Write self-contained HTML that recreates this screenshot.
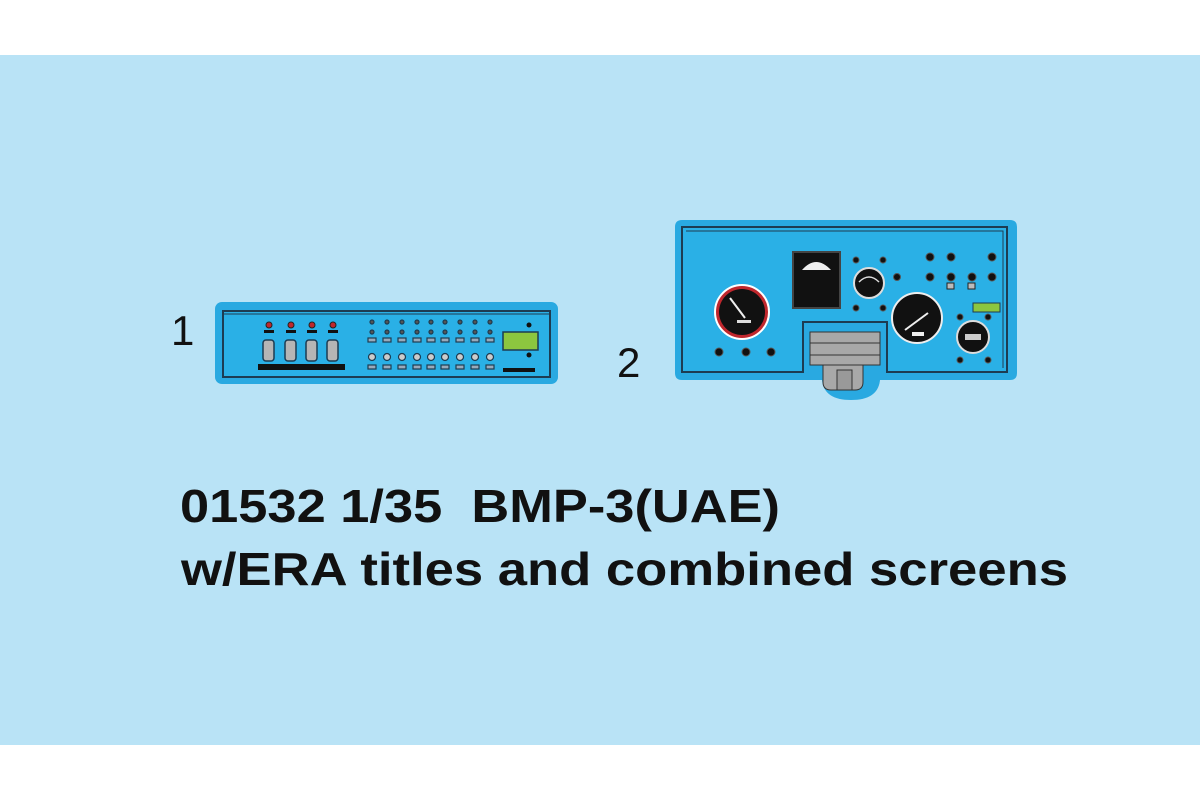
<!DOCTYPE html>
<html><head><meta charset="utf-8"><style>
html,body{margin:0;padding:0;background:#fff;width:1200px;height:800px;overflow:hidden}
svg{display:block}
</style></head><body>
<svg width="1200" height="800" viewBox="0 0 1200 800" xmlns="http://www.w3.org/2000/svg">
<rect x="0" y="0" width="1200" height="800" fill="#fff"/>
<rect x="0" y="55" width="1200" height="690" fill="#b9e3f6"/>

<!-- Panel 1 -->
<rect x="215" y="302" width="343" height="82" rx="7" fill="#29a9e1"/>
<rect x="223" y="311" width="327" height="66" fill="#2ab0e6" stroke="#1d3c52" stroke-width="2"/>
<line x1="223" y1="314" x2="550" y2="314" stroke="#1d3c52" stroke-width="1"/>
<g fill="#c0272d" stroke="#222" stroke-width="1">
<circle cx="269" cy="325" r="3"/><circle cx="291" cy="325" r="3"/><circle cx="312" cy="325" r="3"/><circle cx="333" cy="325" r="3"/>
</g>
<g fill="#111">
<rect x="264" y="330" width="10" height="3"/><rect x="286" y="330" width="10" height="3"/><rect x="307" y="330" width="10" height="3"/><rect x="328" y="330" width="10" height="3"/>
<rect x="258" y="364" width="87" height="6"/>
<rect x="503" y="368" width="32" height="4"/>
<circle cx="529" cy="325" r="2.5"/><circle cx="529" cy="355" r="2.5"/>
</g>
<g fill="#b5b5b5" stroke="#1d3c52" stroke-width="1.5">
<rect x="263" y="340" width="11" height="21" rx="3"/><rect x="285" y="340" width="11" height="21" rx="3"/><rect x="306" y="340" width="11" height="21" rx="3"/><rect x="327" y="340" width="11" height="21" rx="3"/>
</g>
<g id="col" stroke="#1d3c52" stroke-width="1">
</g>
<g stroke="#1d3c52" stroke-width="1.2">
<!-- columns -->
<g fill="#555"><circle cx="372" cy="322" r="2"/><circle cx="387" cy="322" r="2"/><circle cx="402" cy="322" r="2"/><circle cx="417" cy="322" r="2"/><circle cx="431" cy="322" r="2"/><circle cx="445" cy="322" r="2"/><circle cx="460" cy="322" r="2"/><circle cx="475" cy="322" r="2"/><circle cx="490" cy="322" r="2"/>
<circle cx="372" cy="332" r="2"/><circle cx="387" cy="332" r="2"/><circle cx="402" cy="332" r="2"/><circle cx="417" cy="332" r="2"/><circle cx="431" cy="332" r="2"/><circle cx="445" cy="332" r="2"/><circle cx="460" cy="332" r="2"/><circle cx="475" cy="332" r="2"/><circle cx="490" cy="332" r="2"/></g>
<g fill="#9ab"><rect x="368" y="338" width="8" height="4"/><rect x="383" y="338" width="8" height="4"/><rect x="398" y="338" width="8" height="4"/><rect x="413" y="338" width="8" height="4"/><rect x="427" y="338" width="8" height="4"/><rect x="441" y="338" width="8" height="4"/><rect x="456" y="338" width="8" height="4"/><rect x="471" y="338" width="8" height="4"/><rect x="486" y="338" width="8" height="4"/>
<rect x="368" y="365" width="8" height="4"/><rect x="383" y="365" width="8" height="4"/><rect x="398" y="365" width="8" height="4"/><rect x="413" y="365" width="8" height="4"/><rect x="427" y="365" width="8" height="4"/><rect x="441" y="365" width="8" height="4"/><rect x="456" y="365" width="8" height="4"/><rect x="471" y="365" width="8" height="4"/><rect x="486" y="365" width="8" height="4"/></g>
<g fill="#ccc"><circle cx="372" cy="357" r="3.5"/><circle cx="387" cy="357" r="3.5"/><circle cx="402" cy="357" r="3.5"/><circle cx="417" cy="357" r="3.5"/><circle cx="431" cy="357" r="3.5"/><circle cx="445" cy="357" r="3.5"/><circle cx="460" cy="357" r="3.5"/><circle cx="475" cy="357" r="3.5"/><circle cx="490" cy="357" r="3.5"/></g>
</g>
<rect x="503" y="332" width="35" height="18" fill="#8cc63f" stroke="#1d3c52" stroke-width="1.5"/>

<!-- Panel 2 -->
<path d="M682 220 H1010 Q1017 220 1017 227 V373 Q1017 380 1010 380 H880 Q878 400 851 400 Q824 400 822 380 H682 Q675 380 675 373 V227 Q675 220 682 220 Z" fill="#29a9e1"/>
<path d="M682 227 H1007 V372 H887 V322 H803 V372 H682 Z" fill="#2ab0e6" stroke="#1d3c52" stroke-width="2"/>
<path d="M686 231 H1003 V368" fill="none" stroke="#1d3c52" stroke-width="1"/>
<rect x="810" y="332" width="70" height="33" fill="#a8a8a8" stroke="#333" stroke-width="1"/>
<line x1="810" y1="343" x2="880" y2="343" stroke="#333"/><line x1="810" y1="355" x2="880" y2="355" stroke="#333"/>
<path d="M823 365 H863 V382 Q863 390 855 390 H831 Q823 390 823 382 Z" fill="#a8a8a8" stroke="#333"/>
<rect x="837" y="370" width="15" height="20" fill="#999" stroke="#333"/>
<!-- left gauge -->
<circle cx="742" cy="312" r="27" fill="#c0272d" stroke="#fff" stroke-width="2"/>
<circle cx="742" cy="312" r="23" fill="#111"/>
<line x1="730" y1="298" x2="745" y2="318" stroke="#eee" stroke-width="2"/>
<rect x="737" y="320" width="14" height="3" fill="#ddd"/>
<!-- black square -->
<rect x="793" y="252" width="47" height="56" fill="#111" stroke="#444" stroke-width="2"/>
<path d="M802 270 Q816 254 831 270 Z" fill="#eee"/>
<!-- small gauge -->
<circle cx="869" cy="283" r="15" fill="#111" stroke="#ddd" stroke-width="2"/>
<path d="M859 282 Q869 272 879 282" stroke="#ddd" fill="none" stroke-width="1.5"/>
<!-- big gauge -->
<circle cx="917" cy="318" r="25" fill="#111" stroke="#eee" stroke-width="2"/>
<line x1="905" y1="330" x2="928" y2="313" stroke="#eee" stroke-width="2"/>
<rect x="912" y="332" width="12" height="4" fill="#eee"/>
<!-- small right gauge -->
<circle cx="973" cy="337" r="16" fill="#111" stroke="#ddd" stroke-width="2"/>
<rect x="965" y="334" width="16" height="6" fill="#ccc"/>
<rect x="973" y="303" width="27" height="9" fill="#8cc63f" stroke="#1d3c52"/>
<rect x="947" y="283" width="7" height="6" fill="#bbb" stroke="#222"/>
<rect x="968" y="283" width="7" height="6" fill="#bbb" stroke="#222"/>
<g fill="#111" stroke="#555" stroke-width="1">
<circle cx="719" cy="352" r="4"/><circle cx="746" cy="352" r="4"/><circle cx="771" cy="352" r="4"/>
<circle cx="856" cy="260" r="3"/><circle cx="883" cy="260" r="3"/><circle cx="897" cy="277" r="3.5"/>
<circle cx="856" cy="308" r="3"/><circle cx="883" cy="308" r="3"/>
<circle cx="930" cy="257" r="4"/><circle cx="951" cy="257" r="4"/><circle cx="992" cy="257" r="4"/>
<circle cx="930" cy="277" r="4"/><circle cx="951" cy="277" r="4"/><circle cx="972" cy="277" r="4"/><circle cx="992" cy="277" r="4"/>
<circle cx="960" cy="317" r="3"/><circle cx="988" cy="317" r="3"/>
<circle cx="960" cy="360" r="3"/><circle cx="988" cy="360" r="3"/>
</g>

<g font-family="Liberation Sans, Arial, sans-serif" fill="#111">
<text x="171" y="345" font-size="42">1</text>
<text x="617" y="377" font-size="42">2</text>
<text x="180" y="522" font-size="46" font-weight="bold" textLength="600" lengthAdjust="spacingAndGlyphs" xml:space="preserve">01532 1/35  BMP-3(UAE)</text>
<text x="181" y="585" font-size="46" font-weight="bold" textLength="887" lengthAdjust="spacingAndGlyphs">w/ERA titles and combined screens</text>
</g>
</svg>
</body></html>
